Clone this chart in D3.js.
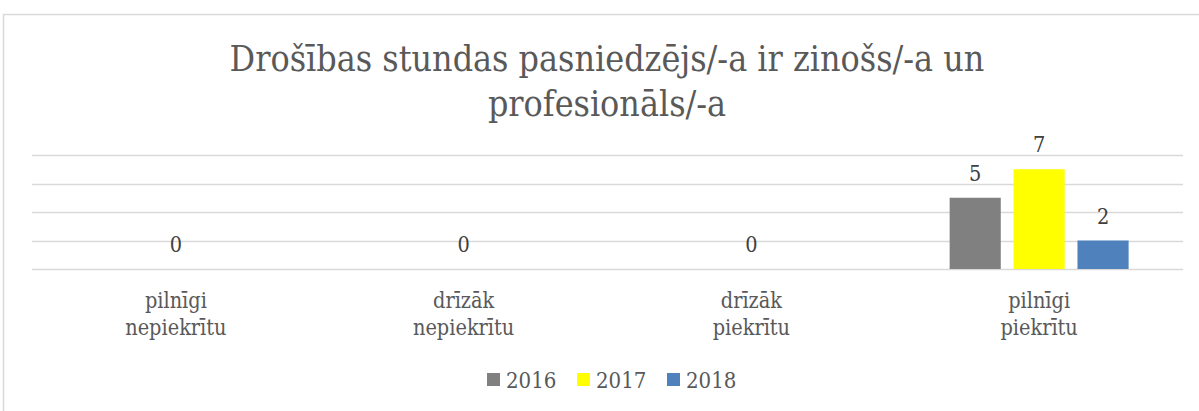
<!DOCTYPE html>
<html>
<head>
<meta charset="utf-8">
<script src="https://cdn.jsdelivr.net/npm/d3@7"></script>
<style>
  body { margin: 0; background: #fff; }
  text { font-family: "DejaVu Serif Condensed", "DejaVu Serif", serif; }
</style>
</head>
<body>
<div id="chart"></div>
<script>
// chart data
var categories = ["pilnīgi nepiekrītu", "drīzāk nepiekrītu", "drīzāk piekrītu", "pilnīgi piekrītu"];
var years = ["2016", "2017", "2018"];
var values2016 = [null, null, null, 5];
var values2017 = [0, 0, 0, 7];
var values2018 = [null, null, null, 2];
var yTicks = [0, 2, 4, 6, 8];
var titleLines = ["Drošības stundas pasniedzējs/-a ir zinošs/-a un", "profesionāls/-a"];

var seriesValues = [values2016, values2017, values2018];
var colors = ["#808080", "#ffff00", "#4f81bd"];

var svgWidth = 1199;
var svgHeight = 411;

var margin = { top: 155, right: 16, bottom: 142, left: 32 };
var width = svgWidth - margin.left - margin.right;
var height = svgHeight - margin.top - margin.bottom;

var svg = d3.select("#chart")
  .append("svg")
  .attr("width", svgWidth)
  .attr("height", svgHeight);

// chart area border
svg.append("rect")
  .attr("x", 3.5)
  .attr("y", 14.5)
  .attr("width", svgWidth + 10)
  .attr("height", svgHeight + 10)
  .attr("fill", "none")
  .attr("stroke", "#d9d9d9")
  .attr("stroke-width", 1.5);

// title
svg.append("g").selectAll("text")
  .data(titleLines)
  .enter()
  .append("text")
  .attr("x", 607)
  .attr("y", (d, i) => 71 + i * 45)
  .attr("text-anchor", "middle")
  .attr("font-size", 35.5)
  .attr("fill", "#595959")
  .text(d => d);

var chartGroup = svg.append("g")
  .attr("transform", `translate(${margin.left}, ${margin.top})`);

var x0 = d3.scaleBand()
  .domain(categories)
  .range([0, width])
  .padding(0);

var groupWidth = x0.bandwidth() * 0.622;
var x1 = d3.scaleBand()
  .domain(years)
  .range([0, groupWidth])
  .paddingInner(0.2);

var y = d3.scaleLinear()
  .domain([0, 8])
  .range([height, 0]);

// gridlines
chartGroup.append("g")
  .selectAll("line")
  .data(yTicks)
  .enter()
  .append("line")
  .attr("x1", 0)
  .attr("x2", width)
  .attr("y1", d => Math.round(y(d)) + 0.5)
  .attr("y2", d => Math.round(y(d)) + 0.5)
  .attr("stroke", "#d9d9d9")
  .attr("stroke-width", 1.5);

// build rows for bars
var rows = [];
categories.forEach(function(c, ci) {
  years.forEach(function(yr, si) {
    var v = seriesValues[si][ci];
    if (v !== null) rows.push({ cat: c, year: yr, value: v, color: colors[si] });
  });
});

var groupOffset = (x0.bandwidth() - groupWidth) / 2;

chartGroup.selectAll(".bar")
  .data(rows)
  .enter()
  .append("rect")
  .classed("bar", true)
  .attr("x", d => x0(d.cat) + groupOffset + x1(d.year))
  .attr("y", d => y(d.value))
  .attr("width", x1.bandwidth())
  .attr("height", d => y(0) - y(d.value))
  .attr("fill", d => d.color);

// value labels
chartGroup.selectAll(".valueLabel")
  .data(rows)
  .enter()
  .append("text")
  .classed("valueLabel", true)
  .attr("x", d => x0(d.cat) + groupOffset + x1(d.year) + x1.bandwidth() / 2)
  .attr("y", d => y(d.value) - 17)
  .attr("text-anchor", "middle")
  .attr("font-size", 21.5)
  .attr("fill", "#404040")
  .text(d => d.value);

// category labels
var catLabels = chartGroup.append("g")
  .selectAll("text")
  .data(categories)
  .enter()
  .append("text")
  .attr("x", d => x0(d) + x0.bandwidth() / 2)
  .attr("y", height + 39)
  .attr("text-anchor", "middle")
  .attr("font-size", 21.5)
  .attr("fill", "#595959");

catLabels.each(function(d) {
  var t = d3.select(this);
  d.split(" ").forEach(function(word, i) {
    t.append("tspan")
      .attr("x", x0(d) + x0.bandwidth() / 2)
      .attr("dy", i === 0 ? 0 : 27)
      .text(word);
  });
});

// legend
var legend = svg.append("g");
var legendX = [487, 577, 667];
years.forEach(function(yr, i) {
  legend.append("rect")
    .attr("x", legendX[i])
    .attr("y", 373)
    .attr("width", 13)
    .attr("height", 13)
    .attr("fill", colors[i]);
  legend.append("text")
    .attr("x", legendX[i] + 19)
    .attr("y", 388)
    .attr("font-size", 22)
    .attr("fill", "#595959")
    .text(yr);
});
</script>
</body>
</html>
